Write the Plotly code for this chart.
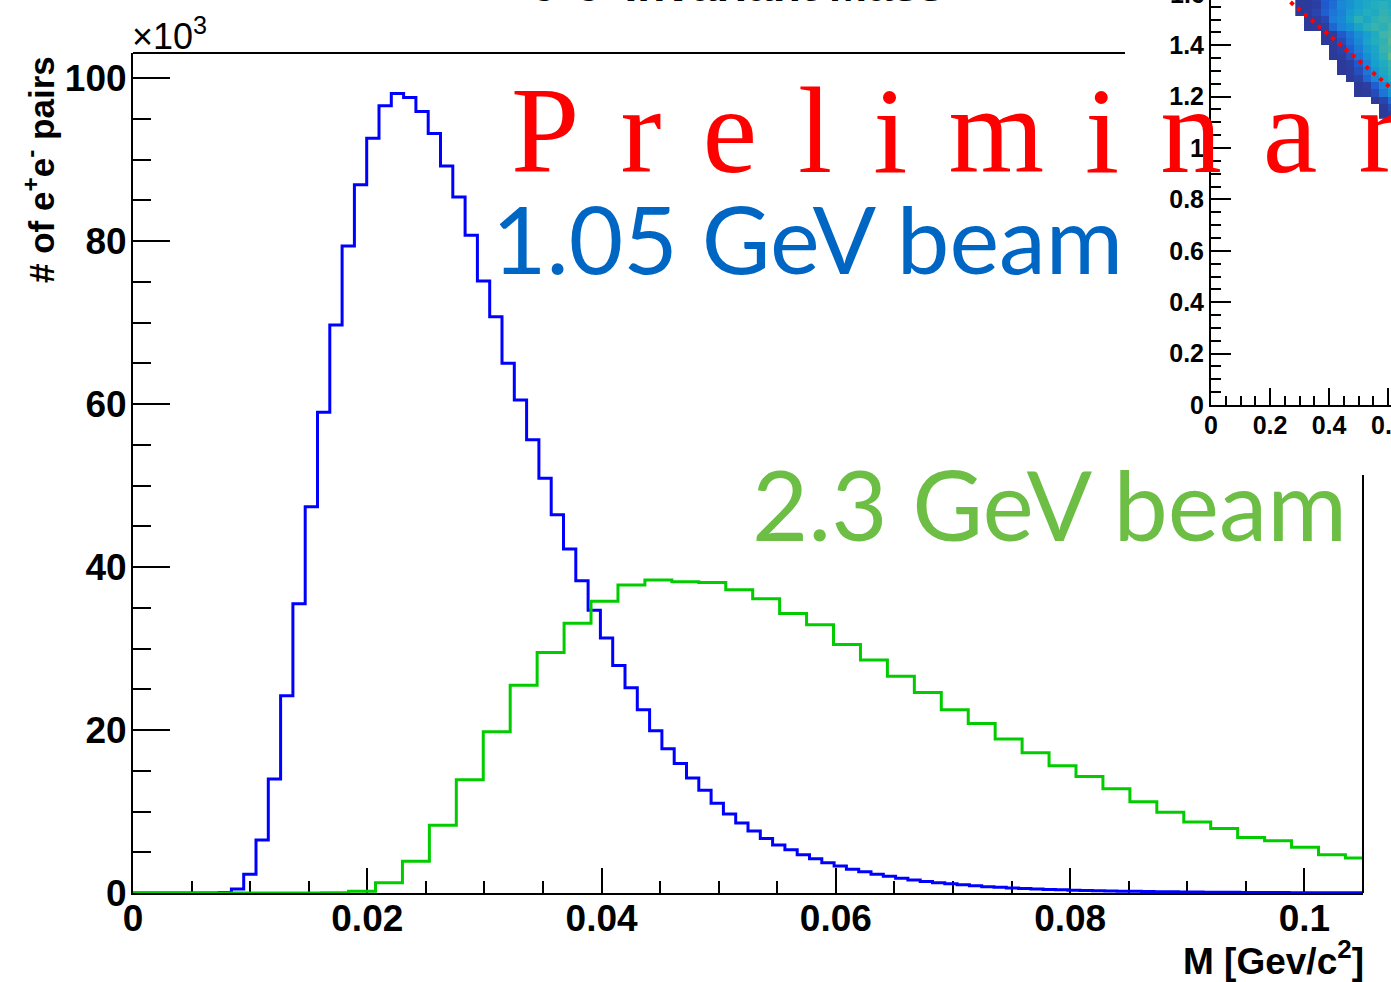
import numpy as np
import plotly.graph_objects as go

W, H = 1391, 982

# ---------------- data (counts in units of 10^3) ----------------
blue_bin_width = 0.00105   # 1.05 GeV beam: 100 bins on [0, 0.105]
blue_counts = [
    0, 0, 0, 0, 0, 0, 0, 0.05, 0.5, 2.3,
    6.5, 14.0, 24.2, 35.5, 47.4, 59.0, 69.7, 79.4, 86.9, 92.6,
    96.6, 98.1, 97.6, 95.9, 93.2, 89.2, 85.4, 80.7, 75.1, 70.7,
    65.0, 60.5, 55.6, 50.9, 46.4, 42.2, 38.3, 34.7, 31.3, 27.9,
    25.2, 22.5, 19.9, 17.7, 15.9, 14.1, 12.6, 11.0, 9.7, 8.6,
    7.6, 6.7, 5.9, 5.3, 4.7, 4.2, 3.7, 3.3, 2.9, 2.6,
    2.3, 2.05, 1.8, 1.6, 1.42, 1.26, 1.12, 1.0, 0.88, 0.78,
    0.7, 0.62, 0.55, 0.49, 0.44, 0.39, 0.35, 0.31, 0.28, 0.25,
    0.22, 0.2, 0.18, 0.16, 0.14, 0.13, 0.12, 0.1, 0.09, 0.08,
    0.07, 0.065, 0.06, 0.05, 0.045, 0.04, 0.035, 0.03, 0.03, 0.025,
]

green_bin_width = 0.0023   # 2.3 GeV beam
green_counts = [
    0, 0, 0, 0, 0, 0, 0, 0.02, 0.2, 1.26,
    3.9, 8.3, 13.9, 19.8, 25.5, 29.5, 33.1, 35.8, 37.8, 38.4,
    38.2, 38.1, 37.2, 36.1, 34.3, 32.9, 30.5, 28.6, 26.6, 24.6,
    22.5, 20.8, 18.9, 17.2, 15.6, 14.3, 12.8, 11.2, 9.9, 8.7,
    7.9, 6.8, 6.4, 5.6, 4.7, 4.3,
]

x_tick_vals = [0, 0.02, 0.04, 0.06, 0.08, 0.1]
x_tick_text = ["0", "0.02", "0.04", "0.06", "0.08", "0.1"]
y_tick_vals = [0, 20, 40, 60, 80, 100]
y_tick_text = ["0", "20", "40", "60", "80", "100"]

# inset 2D histogram (partially visible corner)
inset_bin = 2.0 / 70
inset_col0 = 10
inset_row0 = 39
N = None
inset_z = [
    [N, N, N, N, N, N, N, N, N, N, 1.1, 1.4],                    # row 39
    [N, N, N, N, N, N, N, N, N, N, 1.0, 1.8],                    # row 40
    [N, N, N, N, N, N, N, N, N, 1.0, 1.6, 2.8],                  # row 41
    [N, N, N, N, N, N, N, 1.0, 1.2, 1.8, 3.0, 4.0],              # row 42
    [N, N, N, N, N, N, N, 1.0, 1.4, 2.4, 3.5, 4.4],              # row 43
    [N, N, N, N, N, N, 1.0, 1.5, 2.6, 3.6, 4.6, 5.4],            # row 44
    [N, N, N, N, N, 1.0, 1.3, 1.9, 3.0, 4.0, 4.9, 5.7],          # row 45
    [N, N, N, N, N, 1.0, 1.4, 2.2, 3.4, 4.4, 5.2, 6.0],          # row 46
    [N, N, N, N, 0.9, 1.3, 1.9, 2.9, 3.8, 4.6, 5.6, 6.8],        # row 47
    [N, N, N, N, 1.0, 1.5, 2.4, 3.2, 4.2, 4.8, 5.9, 6.3],        # row 48
    [N, N, N, 1.0, 1.2, 1.8, 2.8, 3.6, 4.6, 5.4, 5.8, 6.6],      # row 49
    [N, N, N, 1.0, 1.3, 2.2, 3.0, 3.8, 4.4, 5.2, 6.1, 6.4],      # row 50
    [N, 1.0, 1.2, 1.4, 2.6, 3.4, 3.8, 4.6, 5.5, 5.9, 5.6, 6.2],  # row 51
    [N, 1.0, 1.3, 1.7, 3.2, 3.6, 4.4, 5.6, 4.9, 5.6, 6.0, 5.8],  # row 52
    [0.9, 1.2, 1.6, 2.4, 3.0, 3.4, 4.2, 4.8, 5.4, 5.1, 5.8, 5.5],  # row 53
    [1.0, 1.1, 1.4, 2.2, 2.8, 3.6, 3.9, 4.5, 5.0, 5.3, 5.6, 5.2],  # row 54
    [1.0, 1.2, 1.5, 2.3, 2.6, 3.4, 4.0, 4.6, 4.8, 5.2, 5.0, 5.4],  # row 55
]
inset_x_tick_vals = [0, 0.2, 0.4, 0.6]
inset_x_tick_text = ["0", "0.2", "0.4", ""]
inset_y_tick_vals = [0, 0.2, 0.4, 0.6, 0.8, 1.0, 1.2, 1.4]
inset_y_tick_text = ["0", "0.2", "0.4", "0.6", "0.8", "1", "1.2", "1.4"]
inset_cut_x = [0.2, 0.7]
inset_cut_y = [1.636, 1.145]

bird = [
    [0.0, "#2b358f"], [0.12, "#2c3d9f"], [0.25, "#1f5ad0"], [0.4, "#1c80d8"],
    [0.55, "#169fce"], [0.7, "#24aebd"], [0.85, "#4bb7a0"], [1.0, "#8fc065"],
]

# ---------------- figure ----------------
def px_x(p):
    return p / W

def px_y(p):
    return 1 - p / H

fig = go.Figure()

bx = list(np.arange(len(blue_counts) + 1) * blue_bin_width)
by = blue_counts + [blue_counts[-1]]
gx = list(np.arange(len(green_counts) + 1) * green_bin_width)
gy = green_counts + [green_counts[-1]]

fig.add_trace(go.Scatter(x=bx, y=by, mode="lines", line_shape="hv",
                         line=dict(color="#0000ff", width=3), xaxis="x", yaxis="y",
                         hoverinfo="skip"))
fig.add_trace(go.Scatter(x=gx, y=gy, mode="lines", line_shape="hv",
                         line=dict(color="#00cc00", width=3), xaxis="x", yaxis="y",
                         hoverinfo="skip"))

# inset
fig.add_trace(go.Heatmap(z=inset_z, x0=(inset_col0 + 0.5) * inset_bin, dx=inset_bin,
                         y0=(inset_row0 + 0.5) * inset_bin, dy=inset_bin,
                         colorscale=bird, zmin=0.5, zmax=7.5, showscale=False,
                         xaxis="x2", yaxis="y2", hoverinfo="skip"))
fig.add_trace(go.Scatter(x=inset_cut_x, y=inset_cut_y, mode="lines",
                         line=dict(color="#ff0000", width=4, dash="4px,5px"),
                         xaxis="x2", yaxis="y2", hoverinfo="skip"))

tickfont_main = dict(family="Liberation Sans, Arial, sans-serif", size=37, color="black", weight="bold")
tickfont_inset = dict(family="Liberation Sans, Arial, sans-serif", size=25, color="black", weight="bold")

fig.update_layout(
    width=W, height=H, autosize=False,
    margin=dict(l=0, r=0, t=0, b=0, pad=0),
    paper_bgcolor="white", plot_bgcolor="rgba(0,0,0,0)",
    showlegend=False,
    xaxis=dict(domain=[px_x(133), px_x(1363)], range=[0, 0.105], anchor="y", automargin=False,
               tickmode="array", tickvals=x_tick_vals, ticktext=x_tick_text,
               ticks="inside", ticklen=25, tickwidth=2, tickcolor="black",
               minor=dict(dtick=0.005, tick0=0, ticks="inside", ticklen=12, tickwidth=2, tickcolor="black"),
               showline=True, linewidth=2, linecolor="black", layer="below traces",
               showgrid=False, zeroline=False, tickfont=tickfont_main, ticklabelstandoff=-8),
    yaxis=dict(domain=[px_y(893), px_y(53)], range=[0, 103.07], anchor="x", automargin=False,
               tickmode="array", tickvals=y_tick_vals, ticktext=y_tick_text,
               ticks="inside", ticklen=37, tickwidth=2, tickcolor="black",
               minor=dict(dtick=5, tick0=0, ticks="inside", ticklen=18, tickwidth=2, tickcolor="black"),
               showline=True, linewidth=2, linecolor="black", layer="below traces",
               showgrid=False, zeroline=False, tickfont=tickfont_main, ticklabelstandoff=-3),
    xaxis2=dict(domain=[px_x(1211), 1.0], range=[0, (W - 1211) / 295.0], anchor="y2", automargin=False,
                tickmode="array", tickvals=inset_x_tick_vals, ticktext=inset_x_tick_text,
                ticks="inside", ticklen=17, tickwidth=2, tickcolor="black",
                minor=dict(dtick=0.05, tick0=0, ticks="inside", ticklen=9, tickwidth=2, tickcolor="black"),
                showline=True, linewidth=2, linecolor="black",
                showgrid=False, zeroline=False, tickfont=tickfont_inset, ticklabelstandoff=-3),
    yaxis2=dict(domain=[px_y(405), 1.0], range=[0, 405 / 257.0], anchor="x2", automargin=False,
                tickmode="array", tickvals=inset_y_tick_vals, ticktext=inset_y_tick_text,
                ticks="inside", ticklen=20, tickwidth=2, tickcolor="black",
                minor=dict(dtick=0.05, tick0=0, ticks="inside", ticklen=10, tickwidth=2, tickcolor="black"),
                showline=True, linewidth=2, linecolor="black",
                showgrid=False, zeroline=False, tickfont=tickfont_inset, ticklabelstandoff=0),
)

# partial frame (top and right edges, the rest hidden behind the inset)
fig.add_shape(type="line", xref="paper", yref="paper",
              x0=px_x(133), x1=px_x(1125), y0=px_y(53), y1=px_y(53),
              line=dict(color="black", width=2))
fig.add_shape(type="line", xref="paper", yref="paper",
              x0=px_x(1363), x1=px_x(1363), y0=px_y(475), y1=px_y(893),
              line=dict(color="black", width=2))

bold_sans = dict(family="Liberation Sans, Arial, sans-serif", color="black", weight="bold")

def ann(text, x, y, xanchor, yanchor, font, angle=0):
    fig.add_annotation(text=text, x=px_x(x), y=px_y(y), xref="paper", yref="paper",
                       xanchor=xanchor, yanchor=yanchor, showarrow=False,
                       font=font, textangle=angle)

ann("e<sup>+</sup>e<sup>-</sup> Invariant Mass", 737, -17.5, "center", "middle", dict(bold_sans, size=46))
ann("\u00d710<sup>3</sup>", 130, 34, "left", "middle",
    dict(family="Liberation Sans, Arial, sans-serif", size=36, color="black"))
ann("# of e<sup>+</sup>e<sup>-</sup> pairs", 39, 170, "center", "middle", dict(bold_sans, size=35), angle=-90)
ann("M [Gev/c<sup>2</sup>]", 1366, 958, "right", "middle", dict(bold_sans, size=37))
ann("1.6", 1207, -6, "right", "middle", tickfont_inset)
ann("0.6", 1388, 425, "center", "middle", tickfont_inset)

ann("1.05 GeV beam", 490, 238, "left", "middle",
    dict(family="Lato, Open Sans, sans-serif", size=94, color="#0066c4"))
ann("2.3 GeV beam", 750, 503, "left", "middle",
    dict(family="Lato, Open Sans, sans-serif", size=97, color="#6cbe45"))
ann("\u2004".join("Preliminary"), 509, 130, "left", "middle",
    dict(family="Liberation Serif, DejaVu Serif, serif", size=123, color="#ff0000"))

fig.write_html("out.html")
